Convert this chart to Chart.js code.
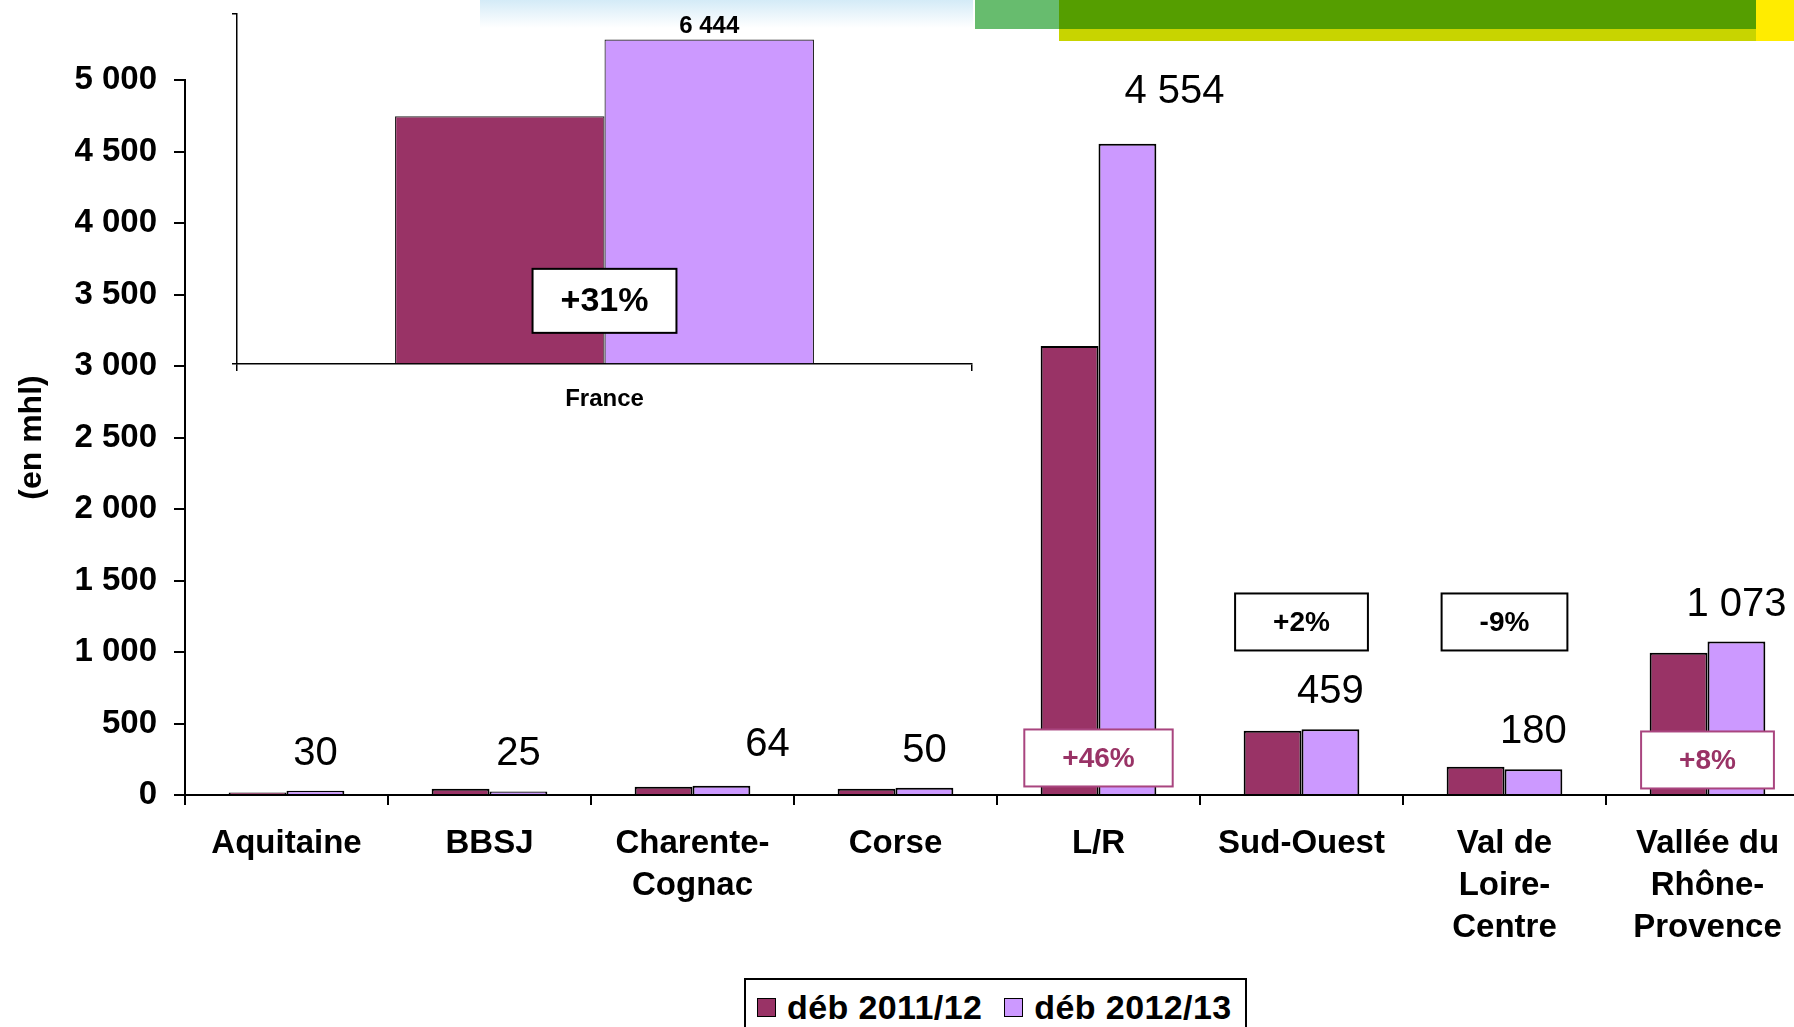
<!DOCTYPE html>
<html lang="fr">
<head>
<meta charset="utf-8">
<title>Stocks par bassin (en mhl)</title>
<script src="https://cdn.jsdelivr.net/npm/chart.js@4.4.1/dist/chart.umd.min.js"></script>
<style>
  html, body { margin: 0; padding: 0; background: #fff; }
  #stage { position: relative; width: 1794px; height: 1027px; overflow: hidden; background: #fff; }
  .deco { position: absolute; }
  #chart-main  { position: absolute; left: 0; top: 0; z-index: 1; }
  #chart-inset { position: absolute; left: 0; top: 0; z-index: 2; }
  #legend {
    position: absolute; left: 744px; top: 978px; width: 503px; height: 70px;
    border: 2px solid #000; background: #fff; z-index: 3;
    font: bold 34px 'Liberation Sans', Arial, sans-serif; color: #000;
    display: flex; align-items: flex-start; padding-top: 8px; box-sizing: border-box;
  }
  #legend span.item { display: flex; align-items: center; margin-left: 11px; letter-spacing: 0.4px; }
  #legend span.item + span.item { margin-left: 22px; }
  #legend i { display: inline-block; width: 17px; height: 17px; border: 1.5px solid #000; margin-right: 11px; }
</style>
</head>
<body>
<div id="stage">
  <!-- bandeau décoratif du haut -->
  <div class="deco" style="left:480px;top:0;width:493px;height:28px;background:linear-gradient(to bottom,#d4ebf7,#ffffff);"></div>
  <div class="deco" style="left:975px;top:0;width:84px;height:29px;background:#67bc6e;"></div>
  <div class="deco" style="left:1059px;top:0;width:697px;height:29px;background:#559e00;"></div>
  <div class="deco" style="left:1059px;top:29px;width:697px;height:12px;background:#c8d400;"></div>
  <div class="deco" style="left:1756px;top:0;width:38px;height:41px;background:#ffec00;"></div>

  <canvas id="chart-main" width="1812" height="1027"></canvas>
  <canvas id="chart-inset" width="985" height="420"></canvas>

  <div id="legend">
    <span class="item"><i style="background:#993366"></i>déb 2011/12</span>
    <span class="item"><i style="background:#cc99ff"></i>déb 2012/13</span>
  </div>
</div>

<script>
/* ═══════════════════════════════════════════════════════
   Données (mhl)
═══════════════════════════════════════════════════════ */
const regions = ['Aquitaine', 'BBSJ', ['Charente-', 'Cognac'], 'Corse', 'L/R',
                 'Sud-Ouest', ['Val de', 'Loire-', 'Centre'], ['Vallée du', 'Rhône-', 'Provence']];
const deb2011 = [18, 44, 58, 44, 3140, 450, 198, 994];
const deb2012 = [30, 25, 64, 50, 4554, 459, 180, 1073];

const franceLabels = ['France'];
const france2011   = [4920];
const france2012   = [6444];

const yTicks = { min: 0, max: 5000, step: 500 };

/* variations affichées : catégorie, texte, hauteur (en mhl) */
const changes = [
  { cat: 4, text: '+46%', at: 259,  tone: 'wine' },
  { cat: 5, text: '+2%',  at: 1210, tone: 'black' },
  { cat: 6, text: '-9%',  at: 1210, tone: 'black' },
  { cat: 7, text: '+8%',  at: 245,  tone: 'wine' },
];
const franceChange = [{ cat: 0, text: '+31%', at: 1254, tone: 'black' }];

/* ═══════════════════════════════════════════════════════
   Styles
═══════════════════════════════════════════════════════ */
const FONT  = "'Liberation Sans', Arial, sans-serif";
const WINE  = '#993366';
const LILAC = '#cc99ff';
const TONES = { wine: { text: '#993366', border: '#a9457f' }, black: { text: '#000', border: '#000' } };

/* décalages manuels des étiquettes (comme dans le graphique Excel) */
const labelNudge = { 2: [46, 4], 4: [47, 15] };

const fmt = v => String(v).replace(/\B(?=(\d{3})+(?!\d))/g, ' ');

/* Étiquettes de valeur au-dessus de la 2e série */
function valueLabelsPlugin(font, gap, nudge = {}) {
  return {
    id: 'valueLabels',
    afterDatasetsDraw(chart) {
      const { ctx } = chart;
      const meta = chart.getDatasetMeta(1);
      const data = chart.data.datasets[1].data;
      ctx.save();
      ctx.font = font;
      ctx.fillStyle = '#000';
      ctx.textAlign = 'center';
      ctx.textBaseline = 'middle';
      meta.data.forEach((bar, i) => {
        const [dx, dy] = nudge[i] || [0, 0];
        ctx.fillText(fmt(data[i]), bar.x + dx, bar.y - gap - dy);
      });
      ctx.restore();
    }
  };
}

/* Encadrés de variation */
function changeBoxesPlugin(items, font, padX, height) {
  return {
    id: 'changeBoxes',
    afterDraw(chart) {
      const { ctx, scales: { x, y } } = chart;
      ctx.save();
      ctx.font = font;
      ctx.textAlign = 'center';
      ctx.textBaseline = 'middle';
      items.forEach(n => {
        const cx = x.getPixelForValue(n.cat);
        const cy = y.getPixelForValue(n.at);
        const w  = ctx.measureText(n.text).width + padX * 2;
        const tone = TONES[n.tone];
        ctx.fillStyle = '#fff';
        ctx.fillRect(cx - w / 2, cy - height / 2, w, height);
        ctx.lineWidth = 2;
        ctx.strokeStyle = tone.border;
        ctx.strokeRect(cx - w / 2, cy - height / 2, w, height);
        ctx.fillStyle = tone.text;
        ctx.fillText(n.text, cx, cy + 1);
      });
      ctx.restore();
    }
  };
}

/* ─────────────────────────────────────────
   GRAPHIQUE PRINCIPAL : bassins
───────────────────────────────────────── */
new Chart(document.getElementById('chart-main'), {
  type: 'bar',
  data: {
    labels: regions,
    datasets: [
      { label: 'déb 2011/12', data: deb2011, backgroundColor: WINE,  borderColor: '#000', borderWidth: 2 },
      { label: 'déb 2012/13', data: deb2012, backgroundColor: LILAC, borderColor: '#000', borderWidth: 2 },
    ]
  },
  options: {
    responsive: false,
    animation: false,
    devicePixelRatio: 1,
    layout: { padding: { top: 80, right: 3, left: 0, bottom: 0 } },
    datasets: { bar: { categoryPercentage: 0.57, barPercentage: 1 } },
    plugins: { legend: { display: false }, tooltip: { enabled: false } },
    scales: {
      x: {
        grid:   { drawOnChartArea: false, tickLength: 10, color: '#000', lineWidth: 2 },
        border: { color: '#000', width: 2 },
        ticks:  {
          color: '#000', padding: 18, maxRotation: 0, autoSkip: false,
          font: { family: FONT, size: 33, weight: 'bold', lineHeight: 1.27 }
        },
        afterFit: s => { s.height = 232; }
      },
      y: {
        min: yTicks.min, max: yTicks.max,
        grid:   { drawOnChartArea: false, tickLength: 11, color: '#000', lineWidth: 2 },
        border: { color: '#000', width: 2 },
        ticks:  {
          stepSize: yTicks.step, color: '#000', padding: 17,
          font: { family: FONT, size: 33, weight: 'bold' },
          callback: v => fmt(v)
        },
        title: {
          display: true, text: '(en mhl)', color: '#000',
          font: { family: FONT, size: 32, weight: 'bold' },
          padding: { top: 13, bottom: 0 }
        },
        afterFit: s => { s.width = 185; }
      }
    }
  },
  plugins: [
    valueLabelsPlugin(`40px ${FONT}`, 37, labelNudge),
    changeBoxesPlugin(changes, `bold 28px ${FONT}`, 38, 57)
  ]
});

/* ─────────────────────────────────────────
   ENCART : France
───────────────────────────────────────── */
new Chart(document.getElementById('chart-inset'), {
  type: 'bar',
  data: {
    labels: franceLabels,
    datasets: [
      { label: 'déb 2011/12', data: france2011, backgroundColor: WINE,  borderColor: '#222', borderWidth: 1.2 },
      { label: 'déb 2012/13', data: france2012, backgroundColor: LILAC, borderColor: '#222', borderWidth: 1.2 },
    ]
  },
  options: {
    responsive: false,
    animation: false,
    devicePixelRatio: 1,
    layout: { padding: { top: 14, right: 13, left: 0, bottom: 0 } },
    datasets: { bar: { categoryPercentage: 0.57, barPercentage: 1 } },
    plugins: { legend: { display: false }, tooltip: { enabled: false } },
    scales: {
      x: {
        grid:   { drawOnChartArea: false, tickLength: 7, color: '#000', lineWidth: 1.5 },
        border: { color: '#000', width: 1.5 },
        ticks:  { color: '#000', padding: 14, font: { family: FONT, size: 24, weight: 'bold' } },
        afterFit: s => { s.height = 56; }
      },
      y: {
        min: 0, max: 6950,
        grid:   { drawOnChartArea: false, tickLength: 5, color: '#000', lineWidth: 1.5 },
        border: { color: '#000', width: 1.5 },
        ticks:  { stepSize: 6950, display: false },
        afterFit: s => { s.width = 237; }
      }
    }
  },
  plugins: [
    valueLabelsPlugin(`bold 24px ${FONT}`, 13),
    changeBoxesPlugin(franceChange, `bold 34px ${FONT}`, 28, 64)
  ]
});
</script>
</body>
</html>
